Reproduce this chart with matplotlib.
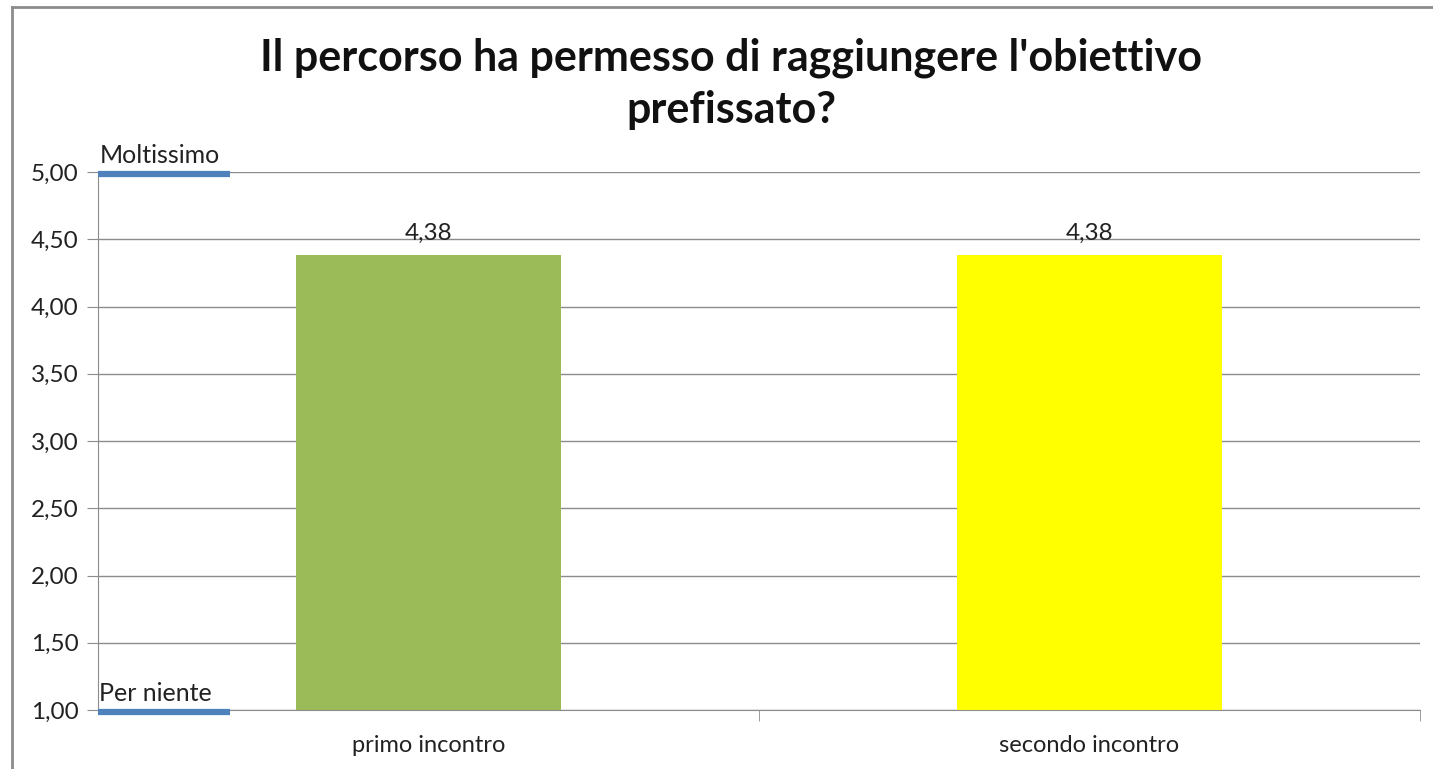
import numpy as np
import matplotlib.pyplot as plt
from matplotlib.lines import Line2D
from matplotlib.ticker import FuncFormatter, MultipleLocator

plt.rcParams['font.family'] = ['Lato', 'DejaVu Sans']

title = "Il percorso ha permesso di raggiungere l'obiettivo\nprefissato?"
categories = ['primo incontro', 'secondo incontro']
values = [4.38, 4.38]
bar_colors = ['#9BBB59', '#FFFF00']
scale_values = [5.0, 1.0]
scale_labels = ['Moltissimo', 'Per niente']

fig = plt.figure(figsize=(14.33, 7.69), dpi=100)
ax = fig.add_axes([98 / 1433, 1 - 710 / 769, (1420 - 98) / 1433, (710 - 172) / 769])

x = np.arange(len(categories))
bars = ax.bar(x, values, width=0.4, color=bar_colors, zorder=3)
for b, v in zip(bars, values):
    ax.annotate(f"{v:.2f}".replace('.', ','), (b.get_x() + b.get_width() / 2, v),
                xytext=(0, 8), textcoords='offset points', ha='center', va='bottom',
                fontsize=17.5, color='#222222')

# scale anchor marks, drawn just under the gridline like the original
for sv, lab in zip(scale_values, scale_labels):
    ax.plot([-0.5, -0.3], [sv - 0.018, sv - 0.018], color='#4F81BD', lw=4.5,
            solid_capstyle='butt', zorder=4, clip_on=False)
    ax.text(-0.498, sv + 0.04, lab, ha='left', va='bottom', fontsize=18, color='#222222')

ax.set_xlim(-0.5, 1.5)
ax.set_ylim(1, 5)
ax.yaxis.set_major_locator(MultipleLocator(0.5))
ax.yaxis.set_major_formatter(FuncFormatter(lambda v, p: f"{v:.2f}".replace('.', ',')))
ax.grid(axis='y', color='#8C8C8C', lw=1, zorder=0)
ax.set_axisbelow(True)

ax.set_xticks(x)
ax.set_xticklabels(categories)
ax.set_xticks([0.5, 1.5], minor=True)
ax.tick_params(axis='x', which='major', length=0, pad=18, labelsize=17, labelcolor='#222222')
ax.tick_params(axis='x', which='minor', length=8, color='#8C8C8C', direction='out')
ax.tick_params(axis='y', length=8, color='#8C8C8C', labelsize=17.5, labelcolor='#222222', pad=6)

for s in ['top', 'right']:
    ax.spines[s].set_visible(False)
for s in ['left', 'bottom']:
    ax.spines[s].set_color('#8C8C8C')

fig.text(731 / 1433, 1 - 84 / 769, title, ha='center', va='center', fontsize=31,
         fontweight='bold', linespacing=1.35, color='#111111')

# outer chart border (cropped on right and bottom)
fig.add_artist(Line2D([12 / 1433, 12 / 1433], [0, 1 - 7 / 769], color='#8C8C8C', lw=2))
fig.add_artist(Line2D([12 / 1433, 1], [1 - 7 / 769, 1 - 7 / 769], color='#8C8C8C', lw=2))

fig.savefig('out.png', dpi=100)
